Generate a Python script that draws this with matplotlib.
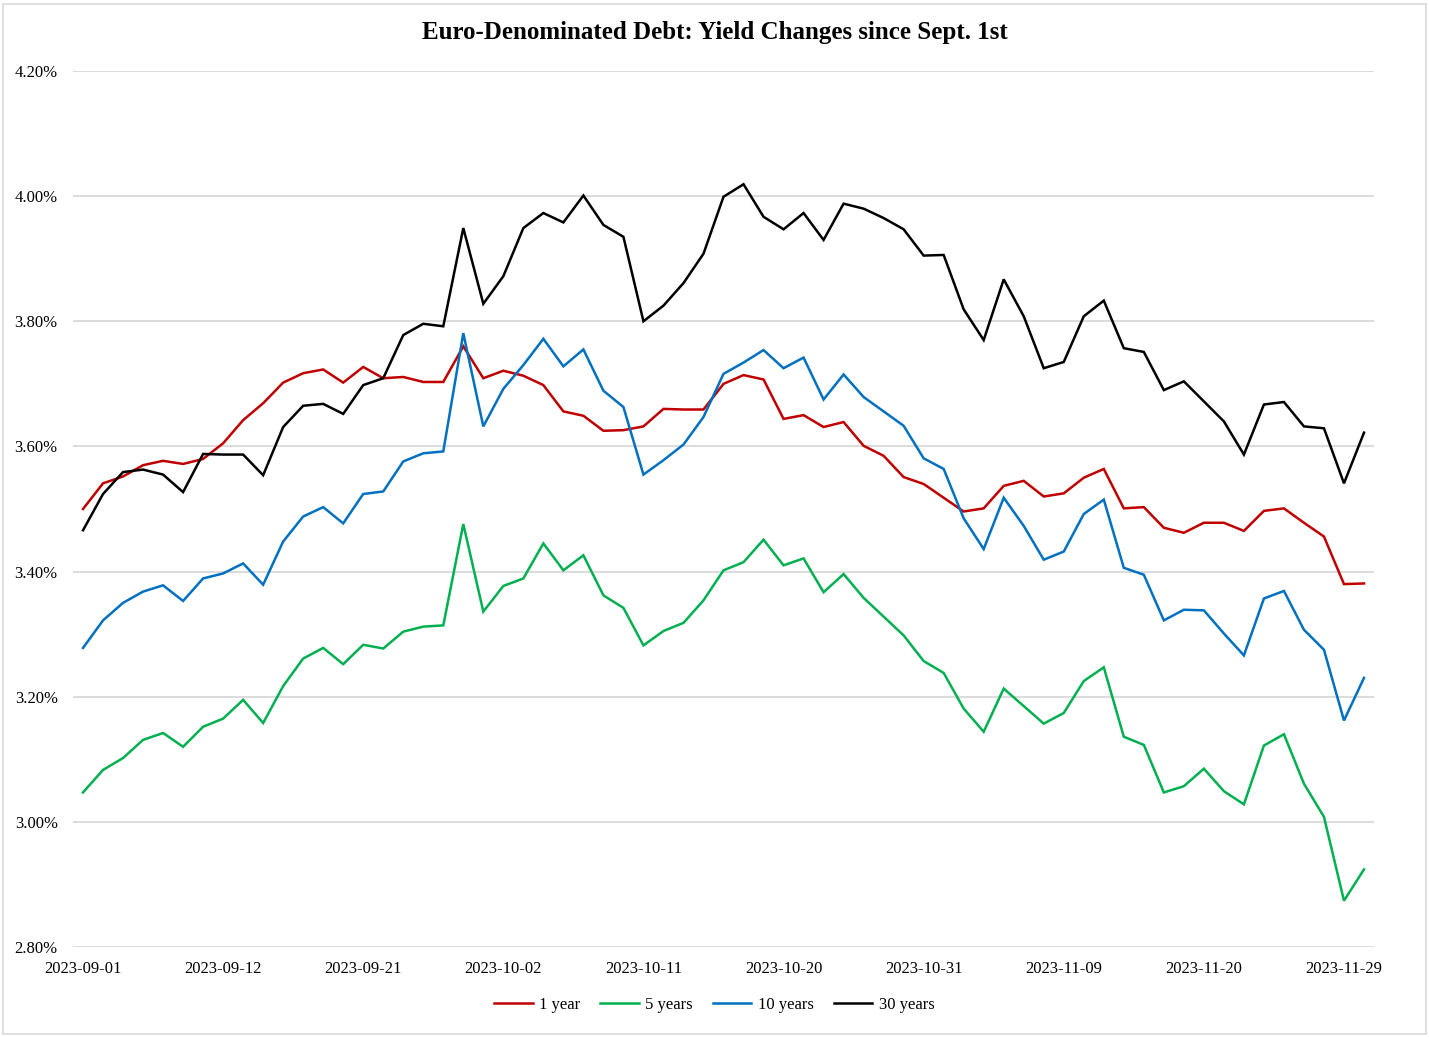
import matplotlib
matplotlib.use("Agg")
import matplotlib.pyplot as plt
import matplotlib.patches as mpatches
from matplotlib.ticker import FuncFormatter, FixedLocator
import pandas as pd

dates = pd.bdate_range("2023-09-01", "2023-11-30").strftime("%Y-%m-%d").tolist()

y1 = [3.500, 3.541, 3.552, 3.570, 3.577, 3.572, 3.580, 3.605, 3.642, 3.669,
      3.702, 3.717, 3.723, 3.702, 3.727, 3.709, 3.711, 3.703, 3.703, 3.760,
      3.709, 3.721, 3.713, 3.698, 3.656, 3.649, 3.625, 3.626, 3.632, 3.660,
      3.659, 3.659, 3.700, 3.714, 3.707, 3.644, 3.650, 3.631, 3.639, 3.601,
      3.585, 3.551, 3.540, 3.518, 3.496, 3.501, 3.537, 3.545, 3.520, 3.525,
      3.550, 3.564, 3.501, 3.503, 3.470, 3.462, 3.478, 3.478, 3.465, 3.497,
      3.501, 3.478, 3.456, 3.380, 3.381]

y5 = [3.047, 3.083, 3.102, 3.131, 3.142, 3.120, 3.152, 3.165, 3.195, 3.158,
      3.217, 3.261, 3.278, 3.252, 3.283, 3.277, 3.304, 3.312, 3.314, 3.476,
      3.336, 3.377, 3.389, 3.445, 3.402, 3.426, 3.362, 3.342, 3.282, 3.305,
      3.318, 3.354, 3.402, 3.415, 3.451, 3.410, 3.421, 3.367, 3.396, 3.358,
      3.328, 3.298, 3.257, 3.238, 3.181, 3.144, 3.213, 3.185, 3.157, 3.174,
      3.225, 3.247, 3.136, 3.123, 3.047, 3.057, 3.085, 3.049, 3.028, 3.122,
      3.140, 3.061, 3.008, 2.874, 2.924]

y10 = [3.278, 3.322, 3.350, 3.368, 3.378, 3.353, 3.389, 3.397, 3.413, 3.379,
       3.448, 3.488, 3.503, 3.477, 3.524, 3.528, 3.576, 3.589, 3.592, 3.781,
       3.632, 3.692, 3.730, 3.772, 3.728, 3.755, 3.689, 3.663, 3.555, 3.578,
       3.603, 3.647, 3.716, 3.734, 3.754, 3.725, 3.742, 3.675, 3.715, 3.679,
       3.656, 3.633, 3.581, 3.564, 3.485, 3.436, 3.518, 3.473, 3.419, 3.432,
       3.492, 3.515, 3.406, 3.395, 3.322, 3.339, 3.338, 3.301, 3.266, 3.357,
       3.369, 3.307, 3.275, 3.162, 3.230]

y30 = [3.466, 3.524, 3.559, 3.563, 3.555, 3.527, 3.588, 3.587, 3.587, 3.554,
       3.631, 3.665, 3.668, 3.652, 3.698, 3.709, 3.778, 3.796, 3.792, 3.949,
       3.828, 3.872, 3.949, 3.973, 3.958, 4.001, 3.954, 3.935, 3.800, 3.825,
       3.861, 3.908, 3.999, 4.019, 3.967, 3.947, 3.973, 3.930, 3.988, 3.980,
       3.965, 3.947, 3.905, 3.906, 3.819, 3.770, 3.867, 3.808, 3.725, 3.735,
       3.808, 3.833, 3.757, 3.751, 3.690, 3.704, 3.672, 3.640, 3.587, 3.667,
       3.671, 3.632, 3.629, 3.541, 3.622]

series_names = ["1 year", "5 years", "10 years", "30 years"]
series_values = [y1, y5, y10, y30]
series_colors = ["#C00000", "#00B050", "#0070C0", "#000000"]

y_ticks = [2.80, 3.00, 3.20, 3.40, 3.60, 3.80, 4.00, 4.20]

FONT = "Liberation Serif"

fig = plt.figure(figsize=(14.29, 10.37), dpi=100)
ax = fig.add_axes([73 / 1429, 1 - 947 / 1037, 1301 / 1429, (947 - 71) / 1037])

x = list(range(len(dates)))
for name, vals, col in zip(series_names, series_values, series_colors):
    ax.plot(x, vals, color=col, lw=1.8, label=name, solid_joinstyle="miter")

ax.set_xlim(-0.5, len(dates) - 0.5)
ax.set_ylim(2.80, 4.20)
ax.yaxis.set_major_locator(FixedLocator(y_ticks))
ax.yaxis.set_major_formatter(FuncFormatter(lambda v, p: f"{v:.2f}%"))
tick_idx = list(range(0, len(dates), 7))
ax.set_xticks(tick_idx)
ax.set_xticklabels([dates[i] for i in tick_idx])
ax.grid(axis="y", color="#d9d9d9", lw=1.3)
ax.set_axisbelow(True)
for s in ax.spines.values():
    s.set_visible(False)
ax.tick_params(axis="both", length=0, labelsize=12)
ax.tick_params(axis="y", pad=11)
ax.tick_params(axis="x", pad=10)
for lab in ax.get_xticklabels() + ax.get_yticklabels():
    lab.set_fontfamily(FONT)

fig.text(0.5, 1 - 32 / 1037, "Euro-Denominated Debt: Yield Changes since Sept. 1st",
         ha="center", va="center", fontsize=18, fontweight="bold", family=FONT)

fig.legend(loc="center", bbox_to_anchor=(0.5, 1 - 1005 / 1037), ncol=4, frameon=False,
           prop={"family": FONT, "size": 12}, handlelength=2.3, handletextpad=0.4,
           columnspacing=1.2)

fig.patches.append(mpatches.Rectangle((3 / 1429, 3 / 1037), 1423 / 1429, 1030 / 1037,
                                      transform=fig.transFigure, fill=False,
                                      edgecolor="#d9d9d9", lw=1.2))

fig.savefig("out.png", dpi=100, facecolor="white")
